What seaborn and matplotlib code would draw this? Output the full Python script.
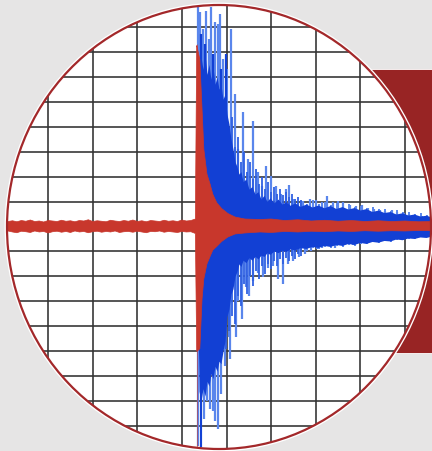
import matplotlib
matplotlib.use("Agg")
import matplotlib.pyplot as plt
import seaborn as sns
from matplotlib.patches import Ellipse, Rectangle

# ---------------- data (time in grid columns, amplitude in grid rows) ----------------
grid_x = [-3, -2, -1, 0, 1, 2, 3, 4, 5]
grid_y = [-8, -7, -6, -5, -4, -3, -2, -1, 0, 1, 2, 3, 4, 5, 6, 7, 8]

# red trace envelope (upper / lower)
red_t = [-4.1, -4.0, -3.9, -3.8, -3.7, -3.6, -3.5, -3.4, -3.3, -3.2,
         -3.1, -3.0, -2.9, -2.8, -2.7, -2.6, -2.5, -2.4, -2.3, -2.2,
         -2.1, -2.0, -1.9, -1.8, -1.7, -1.6, -1.5, -1.4, -1.3, -1.2,
         -1.1, -1.0, -0.9, -0.8, -0.7, -0.6, -0.5, -0.4, -0.3, -0.2,
         -0.1, 0.0, 0.1, 0.2, 0.3,
         0.33, 0.34, 0.40, 0.45, 0.49, 0.56, 0.63, 0.69, 0.78, 0.89,
         1.03, 1.19, 1.41, 1.75, 2.0, 2.3, 2.6, 2.9, 3.2, 3.5,
         3.8, 4.1, 4.4, 4.7, 5.0, 5.3, 5.6]
red_hi = [0.22, 0.25, 0.2, 0.23, 0.19, 0.24, 0.21, 0.26, 0.2, 0.22,
          0.18, 0.24, 0.22, 0.2, 0.25, 0.21, 0.23, 0.19, 0.24, 0.22,
          0.27, 0.2, 0.23, 0.21, 0.19, 0.25, 0.22, 0.2, 0.24, 0.21,
          0.26, 0.2, 0.23, 0.19, 0.24, 0.22, 0.2, 0.25, 0.21, 0.23,
          0.2, 0.26, 0.22, 0.24, 0.3,
          7.25, 7.2, 6.7, 4.7, 3.1, 2.1, 1.7, 1.3, 0.95, 0.72,
          0.52, 0.38, 0.3, 0.28, 0.3, 0.24, 0.27, 0.22, 0.25, 0.21,
          0.24, 0.2, 0.23, 0.2, 0.22, 0.19, 0.2]
red_lo = [-0.2, -0.23, -0.18, -0.22, -0.25, -0.19, -0.21, -0.24, -0.18, -0.22,
          -0.2, -0.26, -0.21, -0.19, -0.23, -0.2, -0.24, -0.18, -0.22, -0.2,
          -0.25, -0.21, -0.19, -0.23, -0.2, -0.22, -0.18, -0.24, -0.21, -0.2,
          -0.23, -0.19, -0.22, -0.25, -0.2, -0.21, -0.18, -0.23, -0.2, -0.22,
          -0.24, -0.2, -0.22, -0.21, -0.28,
          -5.0, -5.0, -4.9, -2.9, -2.1, -1.5, -1.2, -0.95, -0.8, -0.6,
          -0.42, -0.3, -0.26, -0.22, -0.24, -0.2, -0.22, -0.19, -0.21, -0.18,
          -0.2, -0.17, -0.19, -0.17, -0.18, -0.16, -0.17]

# blue trace dense core (upper / lower edge)
core_t = [0.336, 0.381, 0.426, 0.471, 0.516, 0.561, 0.605, 0.650, 0.695, 0.740,
          0.785, 0.830, 0.874, 0.919, 0.964, 1.009, 1.054, 1.099, 1.143, 1.188,
          1.233, 1.278, 1.323, 1.368, 1.435, 1.502, 1.570, 1.637, 1.704, 1.771,
          1.839, 1.906, 1.973, 2.063, 2.152, 2.242, 2.332, 2.422, 2.534, 2.646,
          2.780, 2.915, 3.049, 3.184, 3.318, 3.453, 3.587, 3.722, 3.857, 3.991,
          4.126, 4.260, 4.395, 4.529, 4.664, 4.798, 4.933, 5.067, 5.202, 5.336,
          5.471, 5.605]
core_hi = [0, 6.0, 6.8, 6.3, 6.9, 6.1, 6.5, 5.9, 6.4, 5.7,
           6.0, 5.5, 5.7, 5.1, 5.3, 4.5, 4.1, 3.5, 3.1, 2.6,
           2.4, 2.1, 2.2, 1.8, 1.9, 1.5, 1.6, 1.3, 1.4, 1.1,
           1.25, 1.0, 1.15, 0.95, 1.1, 0.9, 1.0, 0.85, 0.95, 0.8,
           0.9, 0.78, 0.86, 0.75, 0.84, 0.72, 0.8, 0.7, 0.76, 0.66,
           0.72, 0.6, 0.66, 0.56, 0.6, 0.5, 0.55, 0.46, 0.5, 0.42,
           0.45, 0.38]
core_lo = [0, -6.6, -7.0, -6.5, -6.8, -6.2, -6.4, -5.9, -6.1, -5.6,
           -5.8, -5.4, -5.5, -5.0, -4.6, -3.6, -3.3, -2.7, -2.5, -2.0,
           -1.8, -1.5, -1.6, -1.35, -1.45, -1.25, -1.35, -1.2, -1.3, -1.15,
           -1.2, -1.05, -1.12, -0.98, -1.05, -0.95, -1.0, -0.9, -0.94, -0.85,
           -0.88, -0.8, -0.84, -0.76, -0.8, -0.72, -0.76, -0.68, -0.72, -0.64,
           -0.68, -0.6, -0.63, -0.56, -0.58, -0.5, -0.53, -0.46, -0.48, -0.42,
           -0.44, -0.38]

# blue spikes above the baseline
up_t = [0.36, 0.40, 0.47, 0.54, 0.60, 0.65, 0.74, 0.81, 0.85, 0.92, 1.01,
        1.10, 1.19, 1.25, 1.36, 1.48, 1.59, 1.70, 1.79, 1.88, 1.99, 2.10,
        2.21, 2.33, 2.39, 2.48, 2.60, 2.71, 2.86, 3.00, 3.13, 3.24, 3.38,
        3.49, 3.60, 3.76, 3.89, 4.03, 4.16, 4.30, 4.43, 4.56, 4.70, 4.83,
        4.97, 5.10, 5.23, 5.37, 5.50]
up_a = [8.8, 8.6, 7.9, 8.64, 7.5, 8.8, 8.2, 8.1, 8.5, 6.7, 6.3,
        7.9, 5.3, 3.1, 4.6, 2.7, 4.24, 2.2, 1.64, 2.44, 2.04, 1.64,
        1.32, 1.52, 1.68, 1.12, 0.96, 1.04, 1.12, 1.08, 1.0, 1.24, 1.0,
        1.04, 1.0, 0.88, 0.84, 0.88, 0.76, 0.72, 0.68, 0.64, 0.68, 0.6,
        0.56, 0.52, 0.48, 0.44, 0.44]

# blue spikes below the baseline
dn_t = [0.36, 0.43, 0.49, 0.56, 0.63, 0.69, 0.74, 0.81, 0.87, 0.96, 1.05,
        1.07, 1.21, 1.25, 1.34, 1.43, 1.50, 1.59, 1.70, 1.81, 1.92, 2.04,
        2.15, 2.26, 2.37, 2.48, 2.62, 2.75, 2.89, 3.02, 3.15, 3.29, 3.42,
        3.56, 3.69, 3.83, 3.96, 4.09, 4.23, 4.36, 4.50, 4.63, 4.77, 4.90,
        5.03, 5.17, 5.30, 5.44, 5.57]
dn_a = [-8.8, -8.84, -7.7, -7.0, -7.3, -7.4, -7.8, -8.1, -6.7, -5.6, -4.44,
        -5.3, -4.44, -3.0, -3.7, -2.44, -2.8, -2.2, -1.88, -2.04, -1.68, -1.6,
        -2.12, -2.32, -1.52, -1.4, -1.24, -1.12, -1.0, -0.92, -0.88, -0.8, -0.88,
        -0.76, -0.72, -0.76, -0.64, -0.68, -0.6, -0.56, -0.6, -0.52, -0.48, -0.52,
        -0.44, -0.4, -0.36, -0.36, -0.32]

# dense spikes where the signal decays
mid_t = [0.987, 1.054, 1.121, 1.188, 1.256, 1.323, 1.390, 1.457, 1.525, 1.592,
         1.659, 1.726, 1.794, 1.861, 1.928, 1.996, 2.063, 2.130, 2.197, 2.265,
         2.332, 2.399, 2.466, 2.534, 2.601, 2.668]
mid_up = [4.8, 3.9, 4.4, 3.2, 3.6, 2.6, 3.0, 2.2, 2.6, 1.9,
          2.3, 1.7, 2.0, 1.5, 1.8, 1.4, 1.6, 1.3, 1.5, 1.25,
          1.4, 1.2, 1.3, 1.1, 1.2, 1.05]
mid_dn = [-4.9, -4.2, -3.6, -3.9, -2.8, -3.2, -2.3, -2.7, -2.0, -2.4,
          -1.8, -2.1, -1.6, -1.9, -1.5, -1.7, -1.4, -1.6, -1.3, -1.5,
          -1.25, -1.4, -1.2, -1.3, -1.1, -1.2]

# extra spikes in the coda
coda_t = [2.668, 2.803, 2.937, 3.072, 3.206, 3.341, 3.475, 3.610, 3.744, 3.879, 4.013,
          4.148, 4.283, 4.417, 4.552, 4.686, 4.821, 4.955, 5.090, 5.224, 5.359, 5.493]
coda_up = [1.0, 0.92, 1.05, 0.9, 0.98, 0.86, 0.95, 0.84, 0.9, 0.8, 0.84,
           0.74, 0.8, 0.7, 0.72, 0.64, 0.66, 0.58, 0.6, 0.52, 0.54, 0.48]
coda_dn = [-0.95, -1.0, -0.85, -0.92, -0.82, -0.86, -0.78, -0.84, -0.74, -0.78, -0.7,
           -0.72, -0.64, -0.66, -0.6, -0.62, -0.55, -0.56, -0.5, -0.5, -0.44, -0.42]

# darker spikes inside the core
dark_t = [0.43, 0.51, 0.69, 0.87, 0.98]
dark_a = [7.7, 7.3, 6.9, 6.3, 6.9]

# ---------------- styling ----------------
BG = "#e6e5e5"
RED = "#c8372c"
DARKRED = "#982424"
EDGE = "#a3282a"
BLUE_DARK = "#1240d4"
BLUE_MID = "#2f60e2"
BLUE_LIGHT = "#5a86ec"
GRID = "#333333"

sns.set_theme(style="white")
plt.rcParams["font.family"] = ["DejaVu Sans"]

fig = plt.figure(figsize=(4.32, 4.52), dpi=100)
fig.patch.set_facecolor(BG)
ax = fig.add_axes([0, 0, 1, 1])
ax.set_facecolor(BG)
ax.set_xlim(-4.08, 5.605)
ax.set_ylim(-9.0, 9.12)
ax.axis("off")

# red block behind the lens
ax.add_patch(Rectangle((371 / 432, 1 - 354 / 452), 0.2, (354 - 70) / 452,
                       transform=ax.transAxes, facecolor=DARKRED,
                       edgecolor="white", lw=0.6, zorder=1))

center = (219 / 432, 1 - 228 / 452)
w, h = 424 / 432, 444 / 452
lens = Ellipse(center, w, h, transform=ax.transAxes, facecolor="white",
               edgecolor="white", lw=3.5, zorder=2)
ax.add_patch(lens)
clip = Ellipse(center, w, h, transform=ax.transAxes)

def clipit(artist):
    artist.set_clip_path(clip)
    return artist

for gx in grid_x:
    clipit(ax.axvline(gx, color=GRID, lw=1.3, alpha=0.9, zorder=3))
for gy in grid_y:
    clipit(ax.axhline(gy, color=GRID, lw=1.3, alpha=0.9, zorder=3))

# blue trace
clipit(ax.vlines(up_t, 0, up_a, color=BLUE_LIGHT, lw=1.6, zorder=4))
clipit(ax.vlines(dn_t, dn_a, 0, color=BLUE_LIGHT, lw=1.6, zorder=4))
clipit(ax.vlines(coda_t, coda_dn, coda_up, color=BLUE_LIGHT, lw=1.4, zorder=4))
clipit(ax.vlines(mid_t, mid_dn, mid_up, color=BLUE_MID, lw=1.3, zorder=4))
clipit(ax.fill_between(core_t, core_lo, core_hi, color=BLUE_DARK, lw=0, zorder=5))
clipit(ax.vlines(dark_t, 0, dark_a, color=BLUE_DARK, lw=1.6, zorder=5))
clipit(ax.vlines([0.43], -8.84, 0, color=BLUE_DARK, lw=1.4, zorder=5))

# red trace
clipit(ax.fill_between(red_t, red_lo, red_hi, color=RED, lw=0, zorder=6))
sns.lineplot(x=red_t, y=red_hi, ax=ax, color=RED, lw=0.5, estimator=None,
             sort=False, zorder=6)
sns.lineplot(x=red_t, y=red_lo, ax=ax, color=RED, lw=0.5, estimator=None,
             sort=False, zorder=6)
for ln in ax.lines[-2:]:
    clipit(ln)
clipit(ax.vlines([0.33], -8.9, 7.3, color=RED, lw=0.7, alpha=0.6, zorder=6))

# lens rim
ax.add_patch(Ellipse(center, w, h, transform=ax.transAxes, fill=False,
                     edgecolor=EDGE, lw=1.6, zorder=10))

fig.savefig("out.png", dpi=100, facecolor=BG)
